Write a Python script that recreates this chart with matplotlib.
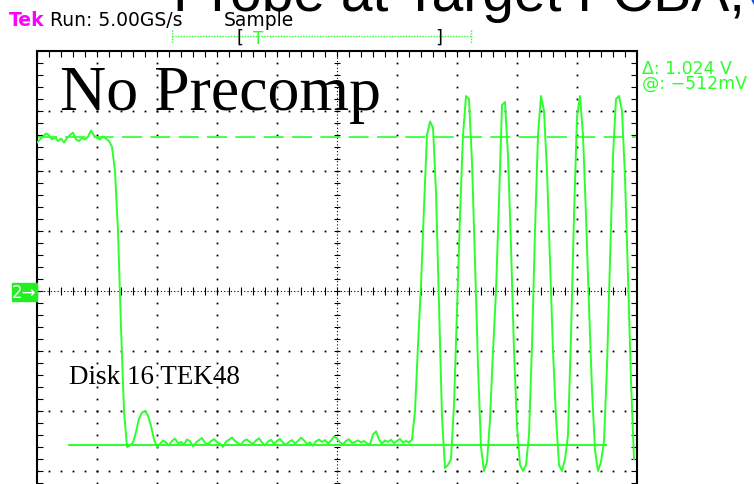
import numpy as np
import matplotlib
matplotlib.use('Agg')
import matplotlib.pyplot as plt
from matplotlib.lines import Line2D
from matplotlib.patches import Rectangle
from matplotlib.ticker import MultipleLocator

# Channel 2 readout in mV (200 mV/div), one sample every 0.05 div
high_mv = [495, 505, 515, 525, 520, 505, 512, 500, 508, 495,
           510, 520, 528, 505, 500, 510, 505, 515, 535, 518,
           510, 505, 515, 508, 500]
fall_mv = [480, 400, 200, -120, -400, -520, -515, -505, -470, -425,
           -405, -400, -415, -450, -495, -520]
low_mv = [-510, -498, -505, -515, -500, -492, -508, -503, -512, -495,
          -500, -518, -505, -497, -490, -506, -511, -500, -494, -503,
          -509, -520, -502, -496, -488, -500, -507, -513, -499, -495,
          -504, -510, -498, -491, -505, -515, -502, -496, -509, -500,
          -493, -506, -512, -503, -497, -508, -500, -489, -498, -510,
          -505, -516, -501, -495, -503, -497, -508, -499, -485, -492,
          -504, -511, -500, -494, -507, -503, -498, -505, -500, -508,
          -512, -478, -468, -495, -509, -498, -503, -496, -507, -500,
          -493, -505, -500]
pulses_mv = [-505, -495, -400, -180, 20, 280, 520, 565, 545, 330,
             -50, -420, -590, -580, -560, -380, -60, 250, 520, 650,
             640, 430, 100, -250, -520, -600, -570, -430, -200, 0,
             300, 620, 630, 450, 150, -200, -450, -580, -600, -580,
             -480, -180, 200, 520, 650, 600, 400, 100, -200, -420,
             -580, -600, -560, -480, -150, 250, 580, 650, 520, 250,
             -50, -330, -530, -600, -570, -500, -250, 100, 450, 640,
             650, 600, 380, 50, -300, -560]

sample_div = 0.05
cursor_mv = [512, -512]
readout = ['\u0394: 1.024 V', '@: \u2212512mV']

trace_v = np.array(high_mv + fall_mv + low_mv + pulses_mv) / 1000.0
t_div = np.arange(len(trace_v)) * sample_div

green = '#2cff2c'

fig = plt.figure(figsize=(7.54, 4.85), dpi=100)
# scope screen: 10 x 8 divisions, bottom part runs off the slide
ax = fig.add_axes([37 / 754, 1 - 532 / 485, 600 / 754, 480 / 485])
ax.set_xlim(0, 10)
ax.set_ylim(-0.8, 0.8)

# graticule dots along the major lines
for k in range(1, 10):
    if k == 5:
        continue
    ys = np.arange(-0.8, 0.8001, 0.04)
    ax.plot(np.full(len(ys), k), ys, ls='none', marker='s', ms=1.3, color='black', mew=0)
for j in [-3, -2, -1, 1, 2, 3]:
    xs = np.arange(0, 10.001, 0.2)
    ax.plot(xs, np.full(len(xs), j * 0.2), ls='none', marker='s', ms=1.3, color='black', mew=0)

# center cross with small ticks
ax.axvline(5, color='black', lw=0.8, ls=(0, (1, 2)))
ax.axhline(0, color='black', lw=0.8, ls=(0, (1, 2)))
ax.vlines(np.arange(0, 10.001, 0.2), -0.012, 0.012, color='black', lw=0.8)
ax.hlines(np.arange(-0.8, 0.8001, 0.04), 4.95, 5.05, color='black', lw=0.8)

# edge ticks
ax.xaxis.set_major_locator(MultipleLocator(1))
ax.xaxis.set_minor_locator(MultipleLocator(0.2))
ax.yaxis.set_major_locator(MultipleLocator(0.2))
ax.yaxis.set_minor_locator(MultipleLocator(0.04))
ax.tick_params(which='both', direction='in', length=4, width=0.8, top=True, right=True,
               labelbottom=False, labelleft=False)
for s in ax.spines.values():
    s.set_linewidth(1.5)

# cursors and trace
l = ax.axhline(cursor_mv[0] / 1000.0, color=green, lw=1.2)
l.set_dashes((12, 5))
ax.hlines(cursor_mv[1] / 1000.0, 0.52, 9.5, color=green, lw=1.4)
ax.plot(t_div, trace_v, color=green, lw=1.4, zorder=5)

# scope header
fig.text(9 / 754, 1 - 26 / 485, 'Tek', color='#ff00ff', fontsize=13.5, weight='bold', va='baseline')
fig.text(50 / 754, 1 - 26 / 485, 'Run: 5.00GS/s', color='black', fontsize=13.5, va='baseline')
fig.text(224 / 754, 1 - 26 / 485, 'Sample', color='black', fontsize=13.5, va='baseline')
fig.add_artist(Line2D([172 / 754, 471 / 754], [1 - 37 / 485] * 2, color=green, lw=1, ls=(0, (1, 1))))
for xp in [172, 471]:
    fig.add_artist(Line2D([xp / 754] * 2, [1 - 31 / 485, 1 - 44 / 485], color=green, lw=1, ls=(0, (1, 1))))
fig.text(236 / 754, 1 - 38 / 485, '[', fontsize=13, va='center')
fig.text(435 / 754, 1 - 38 / 485, ']', fontsize=13, va='center')
fig.text(253 / 754, 1 - 39 / 485, 'T', color=green, fontsize=12, va='center')

fig.text(642 / 754, 1 - 74 / 485, readout[0], color=green, fontsize=12.5, va='baseline')
fig.text(642 / 754, 1 - 89 / 485, readout[1], color=green, fontsize=12.5, va='baseline')

# channel 2 ground marker
fig.patches.append(Rectangle((12 / 754, 1 - 302 / 485), 25 / 754, 18 / 485,
                             transform=fig.transFigure, color='#22ee22'))
fig.text(24 / 754, 1 - 293 / 485, '2\u2192', color='white', fontsize=12, ha='center', va='center')

# slide annotations
fig.text(173 / 754, 1 - 11 / 485, 'Probe at Target FCBA,', fontsize=41,
         family='Liberation Sans', va='baseline')
fig.text(746 / 754, 1 - 11 / 485, 'C', fontsize=41, color='#1f4fd8',
         family='Liberation Sans', va='baseline')
fig.text(60 / 754, 1 - 110 / 485, 'No Precomp', fontsize=46, family='Liberation Serif', va='baseline')
fig.text(69 / 754, 1 - 384 / 485, 'Disk 16 TEK48', fontsize=19.5, family='Liberation Serif', va='baseline')

fig.savefig('out.png', dpi=100)
